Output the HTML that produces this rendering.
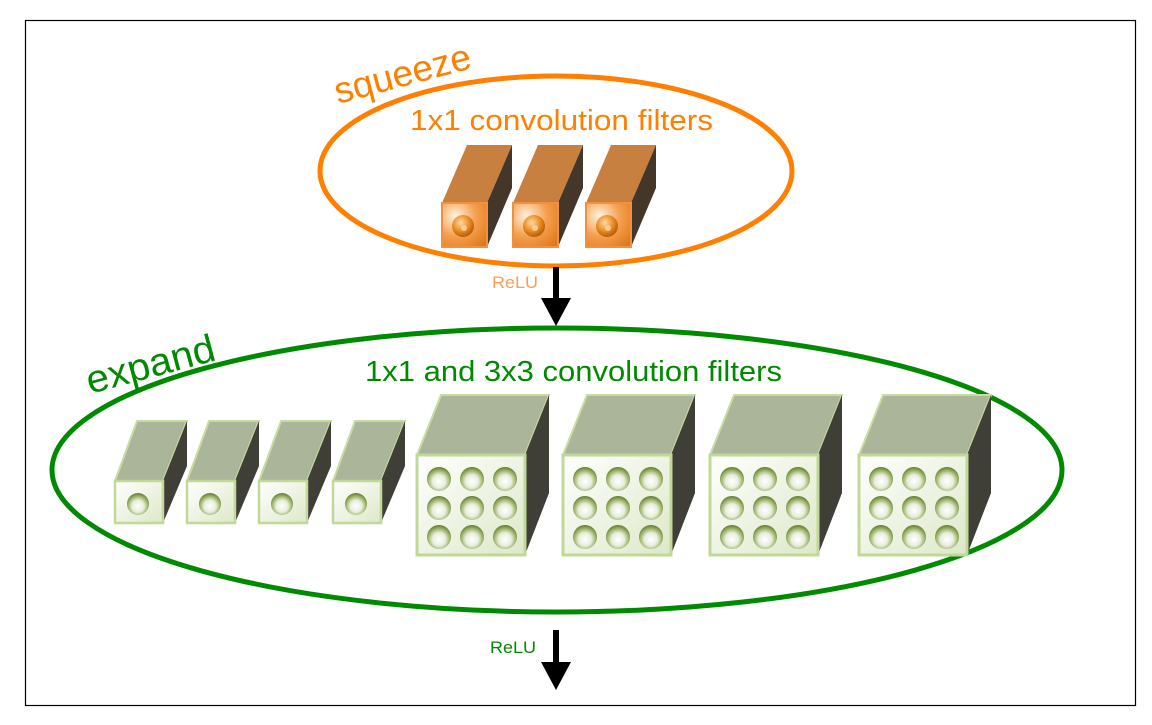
<!DOCTYPE html>
<html><head><meta charset="utf-8"><style>
html,body{margin:0;padding:0;background:#fff;}
svg{display:block;}
text{font-family:"Liberation Sans","DejaVu Sans",sans-serif;}
</style></head><body>
<svg width="1152" height="725" viewBox="0 0 1152 725" xmlns="http://www.w3.org/2000/svg">
<defs>
<radialGradient id="og" cx="0.3" cy="0.3" r="0.9"><stop offset="0" stop-color="#fff2e0"/><stop offset="0.5" stop-color="#f5a050"/><stop offset="1" stop-color="#e07818"/></radialGradient>
<radialGradient id="ob" cx="0.4" cy="0.35" r="0.7"><stop offset="0" stop-color="#ffd9a0"/><stop offset="0.6" stop-color="#e8841c"/><stop offset="1" stop-color="#a85808"/></radialGradient>
<linearGradient id="gf" x1="0" y1="0" x2="1" y2="1"><stop offset="0" stop-color="#ffffff"/><stop offset="1" stop-color="#dde8c8"/></linearGradient>
<radialGradient id="gb" cx="0.5" cy="0.6" r="0.6"><stop offset="0" stop-color="#ffffff"/><stop offset="0.45" stop-color="#e8eedd"/><stop offset="0.75" stop-color="#9cb46a"/><stop offset="1" stop-color="#5f7a30"/></radialGradient>
<g id="oc">
<polygon points="0,0 25,-58 70,-58 45,0" fill="#c88040"/>
<polygon points="45,0 70,-58 70,-15 45,44" fill="#45362a"/>
<rect x="0" y="0" width="45" height="44" fill="url(#og)" stroke="#f09040" stroke-width="2"/>
<circle cx="21" cy="23" r="11" fill="url(#ob)"/>
<circle cx="22" cy="25" r="3" fill="#ffd090"/>
</g>
<g id="sc">
<polygon points="0,0 22,-60 72,-60 48,0" fill="#aab59a" stroke="#c8dca0" stroke-width="2"/>
<polygon points="48,0 72,-60 72,-15 48,42" fill="#3f3f38"/>
<rect x="0" y="0" width="48" height="42" fill="url(#gf)" stroke="#c0d898" stroke-width="2.5"/>
<circle cx="23" cy="23" r="11" fill="url(#gb)"/>
</g>
<g id="hole"><circle r="12" fill="url(#gb)"/></g>
<g id="bc">
<polygon points="0,0 24,-60 132,-60 108,0" fill="#aab59a" stroke="#c8dca0" stroke-width="2"/>
<polygon points="108,0 132,-60 132,38 108,100" fill="#3f3f38"/>
<rect x="0" y="0" width="108" height="100" fill="url(#gf)" stroke="#c0d898" stroke-width="3"/>
<use href="#hole" x="22" y="24"/><use href="#hole" x="55" y="24"/><use href="#hole" x="88" y="24"/>
<use href="#hole" x="22" y="53"/><use href="#hole" x="55" y="53"/><use href="#hole" x="88" y="53"/>
<use href="#hole" x="22" y="82"/><use href="#hole" x="55" y="82"/><use href="#hole" x="88" y="82"/>
</g>
</defs>
<rect x="25.5" y="20.5" width="1110" height="685" fill="none" stroke="#000" stroke-width="1.2"/>

<ellipse cx="556" cy="171" rx="236" ry="95" fill="none" stroke="#ff7f00" stroke-width="5"/>
<text x="0" y="0" font-size="37" fill="#ff7f00" textLength="140" lengthAdjust="spacingAndGlyphs" transform="translate(338,104) rotate(-15)">squeeze</text>
<text x="410" y="130" font-size="29" fill="#ff7f00" textLength="303" lengthAdjust="spacingAndGlyphs">1x1 convolution filters</text>
<use href="#oc" x="442" y="203"/>
<use href="#oc" x="513" y="203"/>
<use href="#oc" x="586" y="203"/>

<rect x="553" y="267" width="6" height="34" fill="#000"/>
<polygon points="541,298 571,298 556,326" fill="#000"/>
<text x="492" y="288" font-size="17" fill="#f5a055" textLength="46" lengthAdjust="spacingAndGlyphs">ReLU</text>

<ellipse cx="557" cy="470" rx="505" ry="142" fill="none" stroke="#008a00" stroke-width="5"/>
<text x="0" y="0" font-size="39" fill="#008a00" textLength="132" lengthAdjust="spacingAndGlyphs" transform="translate(90,394) rotate(-15)">expand</text>
<text x="365" y="381" font-size="29" fill="#008a00" textLength="417" lengthAdjust="spacingAndGlyphs">1x1 and 3x3 convolution filters</text>

<use href="#sc" x="115" y="481"/>
<use href="#sc" x="187" y="481"/>
<use href="#sc" x="259" y="481"/>
<use href="#sc" x="333" y="481"/>
<use href="#bc" x="417" y="455"/>
<use href="#bc" x="563" y="455"/>
<use href="#bc" x="710" y="455"/>
<use href="#bc" x="859" y="455"/>

<rect x="553" y="630" width="6" height="35" fill="#000"/>
<polygon points="541,662 571,662 556,690" fill="#000"/>
<text x="490" y="653" font-size="17" fill="#008a00" textLength="46" lengthAdjust="spacingAndGlyphs">ReLU</text>
</svg>
</body></html>
